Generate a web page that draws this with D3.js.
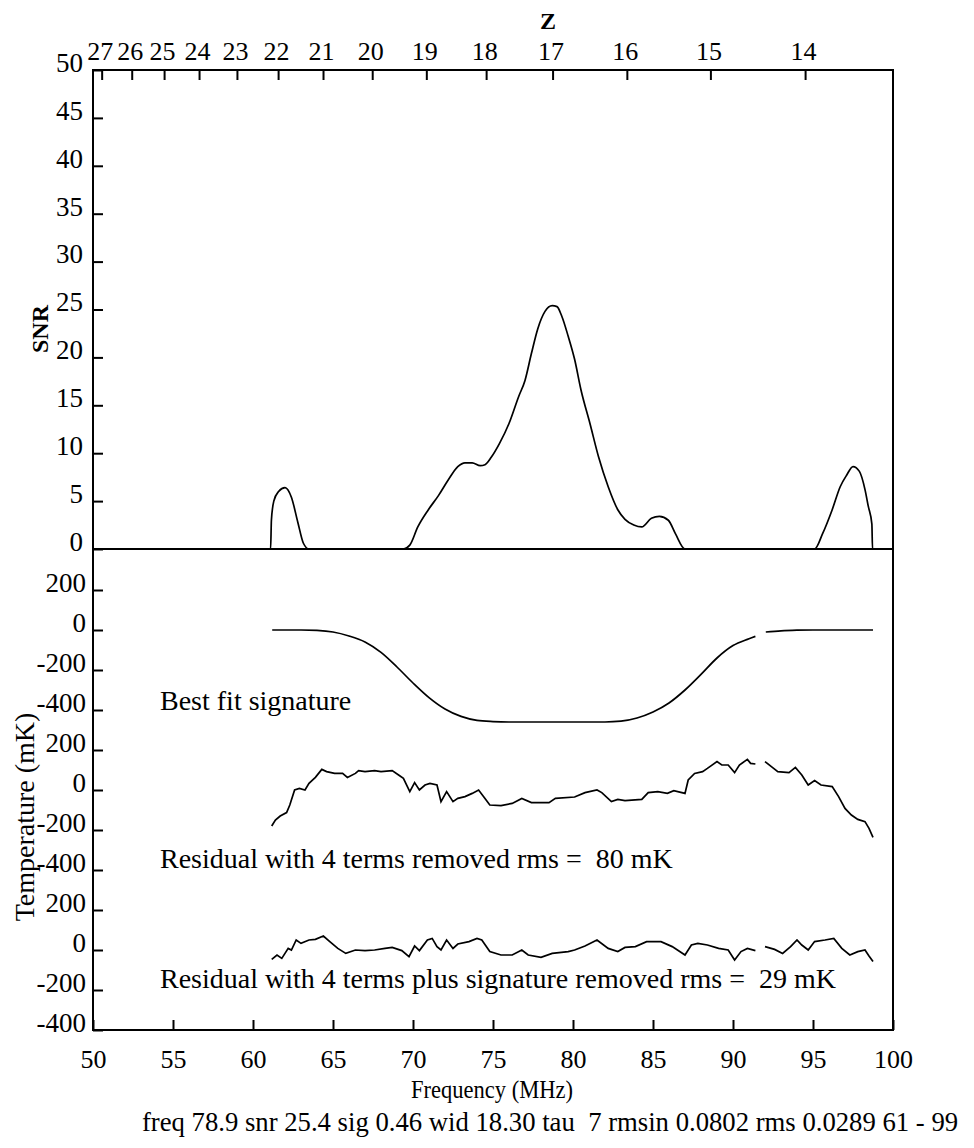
<!DOCTYPE html>
<html>
<head>
<meta charset="utf-8">
<script src="https://cdn.jsdelivr.net/npm/d3@7"></script>
<style>
  body { margin: 0; background: #fff; }
  text { font-family: "Liberation Serif", "Times New Roman", serif; fill: #000; }
</style>
</head>
<body>
<div id="chart"></div>
<script>
// ---- data ----
// top panel : SNR vs frequency
var snrFreq = [61.0, 61.1, 61.15, 61.3, 61.6, 62.0, 62.4, 62.8, 63.15, 63.5,
  69.4, 69.8, 70.3, 70.96, 71.6, 72.2, 72.8, 73.25, 73.7, 74.2, 74.5, 74.9, 75.4, 76.0, 76.6, 77.0,
  77.4, 77.8, 78.25, 78.7, 79.0, 79.3, 79.7, 80.1, 80.5, 81.06, 81.6, 82.2, 82.8, 83.25, 83.8,
  84.3, 84.9, 85.4, 85.96, 86.4, 87.0,
  95.1, 95.6, 96.2, 96.7, 97.1, 97.5, 97.9, 98.25, 98.45, 98.68, 98.72, 99.0];
var snrVal = [0, 0, 3.0, 5.0, 6.0, 6.4, 5.4, 2.8, 0.6, 0,
  0, 0.4, 2.3, 4.1, 5.6, 7.2, 8.6, 9.0, 9.0, 8.7, 8.8, 9.6, 11.0, 13.1, 15.9, 17.6,
  20.4, 23.0, 24.8, 25.4, 25.3, 24.3, 22.2, 19.8, 16.6, 13.1, 9.6, 6.5, 4.1, 3.1, 2.5,
  2.3, 3.2, 3.4, 3.0, 1.6, 0,
  0, 1.6, 4.1, 6.5, 7.7, 8.6, 8.1, 6.2, 4.5, 2.6, 0, 0];

// bottom panel : three traces in mK, null = flagged channel gap
var sigFreq = [61.2, 62, 63, 64, 65, 66, 67, 68, 69, 70, 71, 72, 73, 74, 75, 76, 77, 78, 79, 80,
  81, 82, 83, 84, 85, 86, 87, 88, 89, 90, 91, 91.4, 91.7, 92.05, 93, 94, 95, 96, 97, 98, 98.75];
var sigVal = [0, 0, 0, -2, -10, -30, -60, -112, -185, -265, -338, -395, -432, -452, -458, -460, -460, -460, -460, -460,
  -460, -460, -456, -440, -410, -365, -300, -222, -140, -78, -44, -32, null, -10, -4, -1, 0, 0, 0, 0, 0];

var res1Freq = [61.17, 61.4, 61.7, 62.1, 62.3, 62.6, 62.9, 63.25, 63.5, 63.9, 64.3, 64.6, 65.1, 65.6, 65.9,
  66.4, 66.6, 67.0, 67.6, 68.0, 68.7, 69.1, 69.4, 69.8, 70.1, 70.4, 70.75, 71.06, 71.5, 71.75, 72.1,
  72.5, 72.8, 73.25, 73.7, 74.1, 74.5, 74.8, 75.5, 76.2, 76.8, 77.4, 78.5, 78.9, 80.1, 80.75, 81.5,
  81.8, 82.4, 82.8, 83.25, 84.3, 84.7, 85.3, 85.9, 86.3, 87.0, 87.2, 87.6, 88.1, 88.4, 89.0, 89.3,
  89.7, 90.1, 90.4, 90.9, 91.1, 91.4, 91.7, 92.0, 92.4, 92.8, 93.5, 93.9, 94.3, 94.7, 95.1, 95.5,
  96.2, 96.6, 97.0, 97.4, 97.8, 98.25, 98.5, 98.75];
var res1Val = [-180, -150, -130, -113, -75, 0, 8, 0, 33, 63, 103, 92, 83, 83, 63,
  83, 97, 92, 97, 92, 97, 75, 58, -8, 37, 0, 25, 33, 25, -58, -8,
  -58, -42, -33, -17, 0, -42, -75, -78, -67, -42, -63, -63, -42, -35, -13, 0,
  -13, -58, -47, -53, -47, -13, -8, -17, -3, -17, 50, 83, 92, 108, 142, 125,
  125, 87, 125, 153, 133, 130, null, 142, 117, 92, 87, 113, 75, 25, 47, 25,
  17, -33, -92, -125, -147, -158, -192, -237];

var res2Freq = [61.17, 61.5, 61.8, 62.2, 62.4, 62.7, 63.0, 63.5, 63.9, 64.4, 64.8, 65.3, 65.8, 66.4, 67.0,
  67.6, 68.25, 68.7, 69.3, 69.75, 70.1, 70.4, 70.9, 71.2, 71.5, 71.75, 72.1, 72.5, 72.8, 73.5, 74.0,
  74.3, 74.8, 75.5, 76.2, 76.8, 77.2, 78.0, 78.7, 79.7, 80.1, 80.75, 81.5, 82.2, 82.8, 83.25, 83.9,
  84.6, 85.5, 86.2, 87.0, 87.4, 87.8, 88.4, 89.1, 89.7, 90.1, 90.5, 90.9, 91.4, 91.7, 92.0, 92.6,
  93.1, 93.6, 94.0, 94.3, 94.7, 95.1, 95.75, 96.3, 96.8, 97.3, 97.8, 98.25, 98.5, 98.75];
var res2Val = [-47, -25, -42, 8, 0, 50, 33, 50, 53, 70, 42, 8, -17, 0, -3,
  0, 8, 13, -3, -33, 20, -3, 50, 58, 17, 0, 50, 8, 30, 42, 58,
  50, -8, -25, -25, 0, -25, -37, -17, -8, 0, 20, 50, 8, -8, 13, 17,
  42, 42, 17, -25, 25, 33, 25, 8, 0, -50, -8, 8, -3, null, 17, 3,
  -17, 17, 50, 25, 0, 42, 50, 58, 8, -25, -8, 0, -30, -58];

// offsets of the three stacked traces (mK)
var traceOffsets = [0, -800, -1600];
var traceLabels = ["Best fit signature",
  "Residual with 4 terms removed rms =  80 mK",
  "Residual with 4 terms plus signature removed rms =  29 mK"];

// tick labels
var freqTicks = [50, 55, 60, 65, 70, 75, 80, 85, 90, 95, 100];
var snrTicks = [0, 5, 10, 15, 20, 25, 30, 35, 40, 45, 50];
var tempTicks = [200, 0, -200, -400];
var zTicks = [27, 26, 25, 24, 23, 22, 21, 20, 19, 18, 17, 16, 15, 14];
var footer = "freq 78.9 snr 25.4 sig 0.46 wid 18.30 tau  7 rmsin 0.0802 rms 0.0289 61 - 99";

// ---- layout ----
// (don't call these top/left... window.top is read only)
var svgWidth = 974, svgHeight = 1148;
var plotL = 93, plotR = 893, plotT = 70, plotB = 1030, plotSplit = 549;
var serif = "'Liberation Serif', 'Times New Roman', serif";

var svg = d3.select("#chart").append("svg")
  .attr("width", svgWidth)
  .attr("height", svgHeight)
  .attr("font-family", serif);

var x = d3.scaleLinear().domain([50, 100]).range([plotL, plotR]);
var ySnr = d3.scaleLinear().domain([0, 50]).range([plotSplit, plotT]);
// one scale for whole lower panel, traces shifted by traceOffsets
var yT = d3.scaleLinear().domain([-2000, 405]).range([plotB, plotSplit]);

function zip(f, v) {
  return f.map(function(d, i) { return {f: d, v: v[i]}; });
}

// ---- axes ----
function styleAxis(g) {
  g.attr("font-family", serif);
  g.select(".domain").remove();
  g.selectAll("line").attr("stroke", "#000").attr("stroke-width", 2);
  g.selectAll("text").style("font-family", serif).attr("fill", "#000");
}

// SNR axis
svg.append("g")
  .attr("transform", `translate(${plotL},0)`)
  .call(d3.axisLeft(ySnr).tickValues(snrTicks).tickSize(-10).tickPadding(10))
  .call(styleAxis)
  .selectAll("text").attr("dy", "0.05em").style("font-size", "27px");

// temperature axis, three repeated sets of ticks
var tempValues = [], tempNames = new Map();
traceOffsets.forEach(function(o) {
  tempTicks.forEach(function(t) { tempValues.push(t + o); tempNames.set(t + o, String(t)); });
});
svg.append("g")
  .attr("transform", `translate(${plotL},0)`)
  .call(d3.axisLeft(yT).tickValues(tempValues).tickFormat(d => tempNames.get(d)).tickSize(-10).tickPadding(7))
  .call(styleAxis)
  .selectAll("text").attr("dy", "0.05em").style("font-size", "27px");

// frequency axis
svg.append("g")
  .attr("transform", `translate(0,${plotB})`)
  .call(d3.axisBottom(x).tickValues(freqTicks).tickSize(-10).tickPadding(0))
  .call(styleAxis)
  .selectAll("text").attr("y", 38).attr("dy", "0").style("font-size", "26px");

// redshift axis on top, 21cm line  (sits a few px left in the original)
var zFreq = zTicks.map(z => 1420.4 / (1 + z));
var zAxis = svg.append("g")
  .attr("transform", `translate(-3,${plotT})`)
  .call(d3.axisTop(x).tickValues(zFreq).tickFormat((d, i) => zTicks[i]).tickSize(-10).tickPadding(10))
  .call(styleAxis);
zAxis.selectAll("text").attr("dy", "0").attr("dx", "-2").style("font-size", "26px");

// frame + divider
svg.append("rect")
  .attr("x", plotL).attr("y", plotT)
  .attr("width", plotR - plotL).attr("height", plotB - plotT)
  .attr("fill", "none").attr("stroke", "#000").attr("stroke-width", 2);
svg.append("line")
  .attr("x1", plotL).attr("x2", plotR)
  .attr("y1", ySnr(0)).attr("y2", ySnr(0))
  .attr("stroke", "#000").attr("stroke-width", 2);

// ---- curves ----
var snrLine = d3.line()
  .x(d => x(d.f))
  .y(d => ySnr(d.v))
  .curve(d3.curveMonotoneX);

svg.append("path")
  .datum(zip(snrFreq, snrVal))
  .attr("d", snrLine)
  .attr("fill", "none").attr("stroke", "#000").attr("stroke-width", 1.7);

var traces = [zip(sigFreq, sigVal), zip(res1Freq, res1Val), zip(res2Freq, res2Val)];
traces.forEach(function(data, i) {
  var line = d3.line()
    .defined(d => d.v !== null)
    .x(d => x(d.f))
    .y(d => yT(d.v + traceOffsets[i]))
    .curve(i === 0 ? d3.curveMonotoneX : d3.curveLinear);
  svg.append("path")
    .datum(data)
    .attr("d", line)
    .attr("fill", "none").attr("stroke", "#000").attr("stroke-width", 1.7);
});

// labels inside lower panel
var labelBase = [-400, -390, -190];
svg.selectAll(".trace-label")
  .data(traceLabels)
  .enter().append("text")
  .attr("class", "trace-label")
  .attr("x", 160)
  .attr("y", (d, i) => yT(labelBase[i] + traceOffsets[i]))
  .style("font-size", "28px")
  .style("white-space", "pre")
  .text(d => d);

// ---- titles ----
svg.append("text")
  .attr("transform", "translate(48,329) rotate(-90)")
  .attr("text-anchor", "middle")
  .style("font-size", "24px")
  .style("font-weight", "bold")
  .text("SNR");

svg.append("text")
  .attr("transform", "translate(34,817) rotate(-90)")
  .attr("text-anchor", "middle")
  .style("font-size", "28px")
  .text("Temperature (mK)");

svg.append("text")
  .attr("x", 548).attr("y", 29)
  .attr("text-anchor", "middle")
  .style("font-size", "24px")
  .style("font-weight", "bold")
  .text("Z");

svg.append("text")
  .attr("x", 492).attr("y", 1098)
  .attr("text-anchor", "middle")
  .attr("textLength", 162)
  .attr("lengthAdjust", "spacingAndGlyphs")
  .style("font-size", "26px")
  .text("Frequency (MHz)");

svg.append("text")
  .attr("x", 550).attr("y", 1131)
  .attr("text-anchor", "middle")
  .style("font-size", "26.7px")
  .style("white-space", "pre")
  .text(footer);
</script>
</body>
</html>
